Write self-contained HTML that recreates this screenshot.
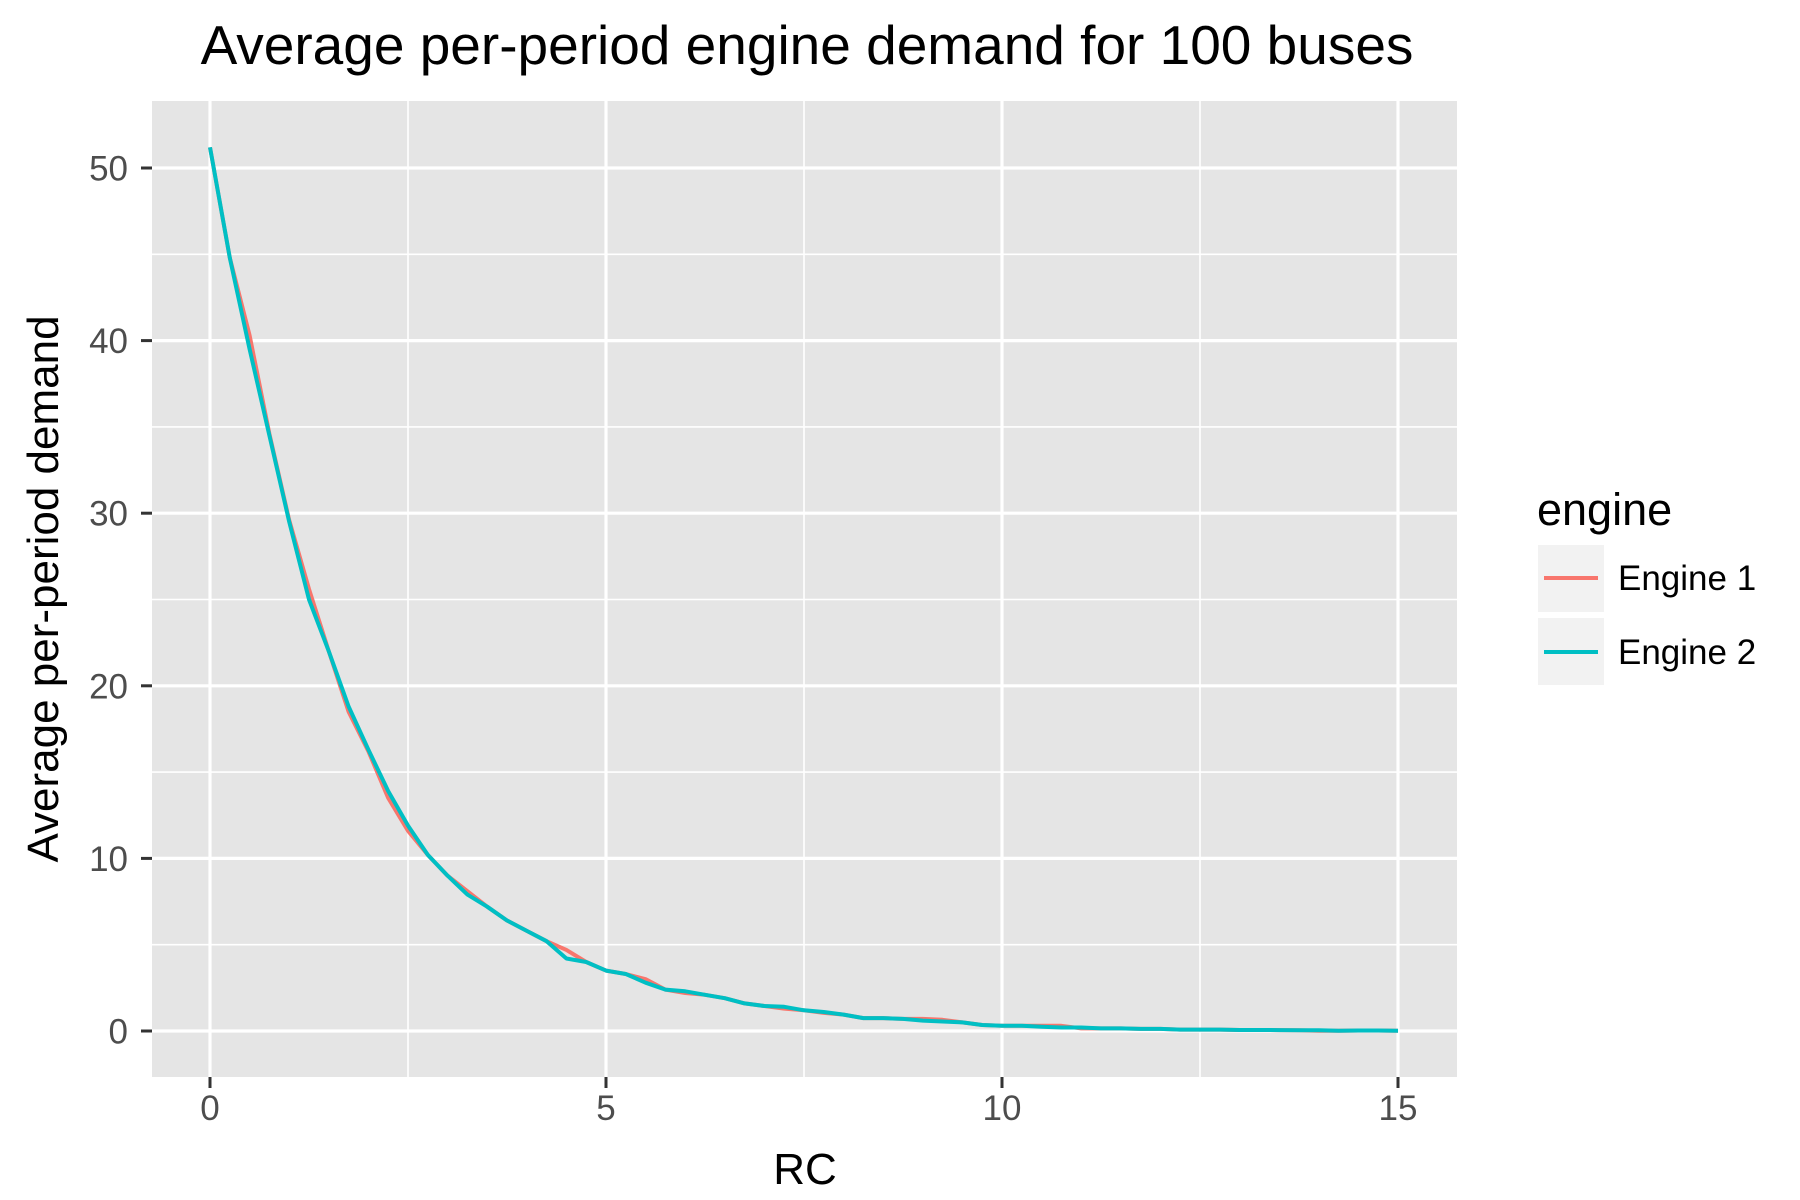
<!DOCTYPE html>
<html><head><meta charset="utf-8"><style>
html,body{margin:0;padding:0;background:#fff;}
svg{display:block;font-family:"Liberation Sans",Arial,sans-serif;}
</style></head><body>
<svg id="chart" width="1800" height="1200" viewBox="0 0 1800 1200">
<rect width="1800" height="1200" fill="#fff"/>
<text x="807" y="64" font-size="55" text-anchor="middle" fill="#000">Average per-period engine demand for 100 buses</text>
<rect x="152" y="101" width="1305" height="976" fill="#e5e5e5"/>
<g id="grid"></g>
<g id="series"></g>
<g id="axes"></g>
<text x="805" y="1184" font-size="44" text-anchor="middle" fill="#000">RC</text>
<text transform="translate(58,589) rotate(-90)" font-size="44" text-anchor="middle" fill="#000">Average per-period demand</text>
<g>
<text x="1537" y="525" font-size="45" fill="#000">engine</text>
<g>
<rect x="1538" y="545" width="66" height="67" fill="#f2f2f2"/>
<line x1="1544" y1="578" x2="1598" y2="578" stroke="#F8766D" stroke-width="4"/>
<text x="1618" y="590" font-size="35" fill="#000">Engine 1</text>
</g>
<g>
<rect x="1538" y="618" width="66" height="67" fill="#f2f2f2"/>
<line x1="1544" y1="652" x2="1598" y2="652" stroke="#00BFC4" stroke-width="4"/>
<text x="1618" y="664" font-size="35" fill="#000">Engine 2</text>
</g>
</g>
</svg>
<script>
const rcValues = [0,0.25,0.5,0.75,1,1.25,1.5,1.75,2,2.25,2.5,2.75,3,3.25,3.5,3.75,4,4.25,4.5,4.75,5,5.25,5.5,5.75,6,6.25,6.5,6.75,7,7.25,7.5,7.75,8,8.25,8.5,8.75,9,9.25,9.5,9.75,10,10.25,10.5,10.75,11,11.25,11.5,11.75,12,12.25,12.5,12.75,13,13.25,13.5,13.75,14,14.25,14.5,14.75,15];
const engine1 = [51.2,44.8,40.3,34.6,29.6,25.6,22.0,18.5,16.2,13.5,11.6,10.2,9.0,8.1,7.2,6.4,5.8,5.2,4.7,4.0,3.5,3.3,3.0,2.4,2.2,2.1,1.9,1.6,1.45,1.3,1.2,1.05,0.95,0.75,0.75,0.7,0.7,0.65,0.5,0.35,0.3,0.3,0.3,0.3,0.15,0.15,0.15,0.12,0.12,0.08,0.08,0.08,0.06,0.06,0.05,0.04,0.02,0.02,0.03,0.03,0.02];
const engine2 = [51.2,44.8,39.5,34.5,29.5,25.0,22.0,18.8,16.3,13.9,11.9,10.2,9.0,7.9,7.2,6.4,5.8,5.2,4.2,4.0,3.5,3.3,2.8,2.4,2.3,2.1,1.9,1.6,1.45,1.4,1.2,1.1,0.95,0.75,0.75,0.7,0.6,0.55,0.5,0.35,0.3,0.3,0.25,0.2,0.2,0.15,0.15,0.12,0.12,0.08,0.08,0.08,0.06,0.06,0.05,0.04,0.04,0.02,0.03,0.03,0.02];
const xTicks = [0,5,10,15];
const xMinor = [2.5,7.5,12.5];
const yTicks = [0,10,20,30,40,50];
const yMinor = [5,15,25,35,45];

const NS = "http://www.w3.org/2000/svg";
function sx(v){ return 210 + v * (1398 - 210) / 15; }
function sy(v){ return 1031 - v * (1031 - 168) / 50; }
function mk(tag, attrs, parent){
  const e = document.createElementNS(NS, tag);
  for (const k in attrs) e.setAttribute(k, attrs[k]);
  parent.appendChild(e);
  return e;
}
const grid = document.getElementById('grid');
const axes = document.getElementById('axes');
const series = document.getElementById('series');

yMinor.forEach(v => {
  const l = mk('line', {x1:152, x2:1457, y1:sy(v), y2:sy(v), stroke:'#fff', 'stroke-width':1.6}, grid);
  
  
});
xMinor.forEach(v => {
  const l = mk('line', {x1:sx(v), x2:sx(v), y1:101, y2:1077, stroke:'#fff', 'stroke-width':1.6}, grid);
  
  
});
yTicks.forEach(v => {
  const l = mk('line', {x1:152, x2:1457, y1:sy(v), y2:sy(v), stroke:'#fff', 'stroke-width':3.2}, grid);
  
  
  const t = mk('line', {x1:141, x2:152, y1:sy(v), y2:sy(v), stroke:'#333', 'stroke-width':3}, axes);
  
  
  const tx = mk('text', {x:128, y:sy(v)+12.5, 'font-size':35, 'text-anchor':'end', fill:'#4d4d4d'}, axes);
  tx.textContent = v;
  
  
});
xTicks.forEach(v => {
  const l = mk('line', {x1:sx(v), x2:sx(v), y1:101, y2:1077, stroke:'#fff', 'stroke-width':3.2}, grid);
  
  
  const t = mk('line', {x1:sx(v), x2:sx(v), y1:1077, y2:1088, stroke:'#333', 'stroke-width':3}, axes);
  
  
  const tx = mk('text', {x:sx(v), y:1120, 'font-size':35, 'text-anchor':'middle', fill:'#4d4d4d'}, axes);
  tx.textContent = v;
  
  
});
function drawLine(vals, color, name){
  const pts = vals.map((v,i) => sx(rcValues[i]).toFixed(1) + ',' + sy(v).toFixed(1)).join(' ');
  const p = mk('polyline', {points:pts, fill:'none', stroke:color, 'stroke-width':4, 'stroke-linejoin':'round'}, series);
  
  
}
drawLine(engine1, '#F8766D', 'engine-1-line');
drawLine(engine2, '#00BFC4', 'engine-2-line');
</script>
</body></html>
